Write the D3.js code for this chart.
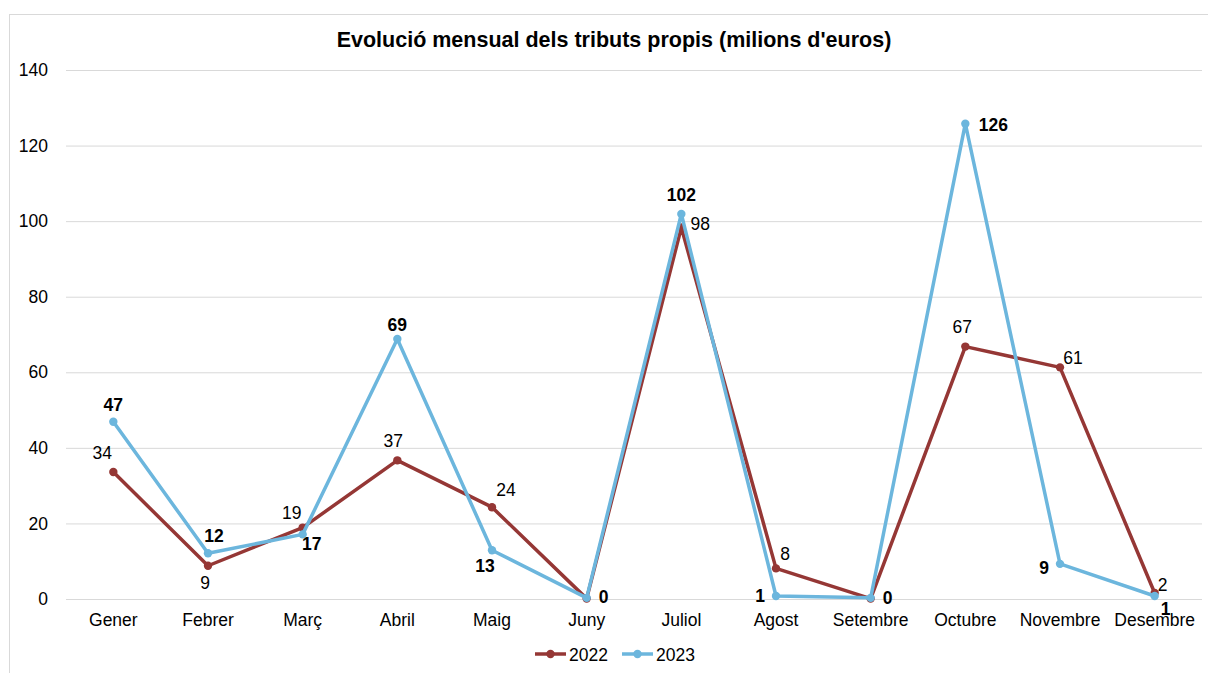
<!DOCTYPE html>
<html>
<head>
<meta charset="utf-8">
<script src="https://cdn.jsdelivr.net/npm/d3@7"></script>
<style>
  body { margin: 0; background: #fff; font-family: "Liberation Sans", Arial, sans-serif; }
  .gridline line { stroke: #d9d9d9; stroke-width: 1; }
  .gridline path { display: none; }
  .axis path, .axis line { display: none; }
  .axis text { font-size: 17.5px; fill: #000; font-family: "Liberation Sans", Arial, sans-serif; }
</style>
</head>
<body>
<script>
var months = ["Gener", "Febrer", "Març", "Abril", "Maig", "Juny", "Juliol", "Agost", "Setembre", "Octubre", "Novembre", "Desembre"];
var values2022 = [33.6, 8.8, 18.9, 36.7, 24.3, 0.1, 98.3, 8.1, 0.1, 66.8, 61.3, 1.6];
var values2023 = [46.9, 12.1, 17.1, 68.8, 12.9, 0.3, 101.9, 0.8, 0.3, 125.8, 9.3, 0.8];
var yTicks = [0, 20, 40, 60, 80, 100, 120, 140];
var seriesNames = ["2022", "2023"];

// label placement relative to each point [dx, dy]; null = label not shown
var nudge2022 = [[-11, -13], [-3, 23], [-11, -9], [-4, -13], [14, -11], null, [19, 2], [9, -8], null, [-3, -14], [13, -3], [8, -2]];
var nudge2023 = [[0, -11], [6, -11], [9, 16], [0, -8], [-7, 22], [17, 5], [0, -13], [-16, 6], [17, 6], [28, 7], [-16, 10], [11, 19]];

window.onload = function(){
  var w = 1208;
  var h = 673;
  var margin = {top: 70, left: 66, right: 6, bottom: 74};
  var width = w - margin.left - margin.right;
  var height = h - margin.top - margin.bottom;

  var colors = ["#953735", "#6cb6dd"];

  var x = d3.scaleBand()
    .domain(months)
    .range([0, width]);

  var y = d3.scaleLinear()
    .domain([0, 140])
    .range([height, 0]);

  var svg = d3.select("body").append("svg")
    .attr("width", w)
    .attr("height", h);

  // chart frame
  svg.append("rect")
    .attr("x", 9.5)
    .attr("y", 14.5)
    .attr("width", 1212)
    .attr("height", 700)
    .attr("fill", "none")
    .attr("stroke", "#d9d9d9");

  svg.append("text")
    .attr("x", 614)
    .attr("y", 47)
    .attr("text-anchor", "middle")
    .style("font-weight", "bold")
    .style("font-size", "21.5px")
    .text("Evolució mensual dels tributs propis (milions d'euros)");

  var chart = svg.append("g")
    .attr("transform", "translate(" + margin.left + "," + margin.top + ")");

  chart.append("g")
    .classed("gridline", true)
    .call(d3.axisLeft(y)
      .tickValues(yTicks)
      .tickSize(-width)
      .tickFormat(""));

  chart.append("g")
    .classed("y axis", true)
    .call(d3.axisLeft(y).tickValues(yTicks).tickSize(0).tickPadding(18));

  chart.append("g")
    .classed("x axis", true)
    .attr("transform", "translate(0," + height + ")")
    .call(d3.axisBottom(x).tickSize(0).tickPadding(15));

  var cx = function(i){ return x(months[i]) + x.bandwidth() / 2; };

  var line = d3.line()
    .x(function(d, i){ return cx(i); })
    .y(function(d){ return y(d); });

  var series = [
    {name: seriesNames[0], values: values2022, nudge: nudge2022, color: colors[0], bold: false},
    {name: seriesNames[1], values: values2023, nudge: nudge2023, color: colors[1], bold: true}
  ];

  series.forEach(function(s){
    chart.append("path")
      .datum(s.values)
      .attr("fill", "none")
      .attr("stroke", s.color)
      .attr("stroke-width", 3.5)
      .attr("stroke-linejoin", "round")
      .attr("d", line);

    chart.selectAll(".dot-" + s.name)
      .data(s.values)
      .enter()
        .append("circle")
        .attr("cx", function(d, i){ return cx(i); })
        .attr("cy", function(d){ return y(d); })
        .attr("r", 4.2)
        .attr("fill", s.color);
  });

  series.forEach(function(s){
    var labels = s.values
      .map(function(v, i){ return {v: v, i: i, n: s.nudge[i]}; })
      .filter(function(d){ return d.n !== null; });

    chart.selectAll(".label-" + s.name)
      .data(labels)
      .enter()
        .append("text")
        .attr("x", function(d){ return cx(d.i) + d.n[0]; })
        .attr("y", function(d){ return y(d.v) + d.n[1]; })
        .attr("text-anchor", "middle")
        .style("font-size", "17.5px")
        .style("font-weight", s.bold ? "bold" : "normal")
        .text(function(d){ return Math.round(d.v); });
  });

  // legend
  var legend = svg.append("g")
    .attr("transform", "translate(535,654)");

  var item = legend.selectAll(".legend-item")
    .data(series)
    .enter()
      .append("g")
      .attr("transform", function(d, i){ return "translate(" + (i * 87) + ",0)"; });

  item.append("line")
    .attr("x1", 0)
    .attr("x2", 31)
    .attr("stroke", function(d){ return d.color; })
    .attr("stroke-width", 3.5);

  item.append("circle")
    .attr("cx", 15.5)
    .attr("r", 4.2)
    .attr("fill", function(d){ return d.color; });

  item.append("text")
    .attr("x", 34)
    .attr("y", 6.5)
    .style("font-size", "17.5px")
    .text(function(d){ return d.name; });
};
</script>
</body>
</html>
